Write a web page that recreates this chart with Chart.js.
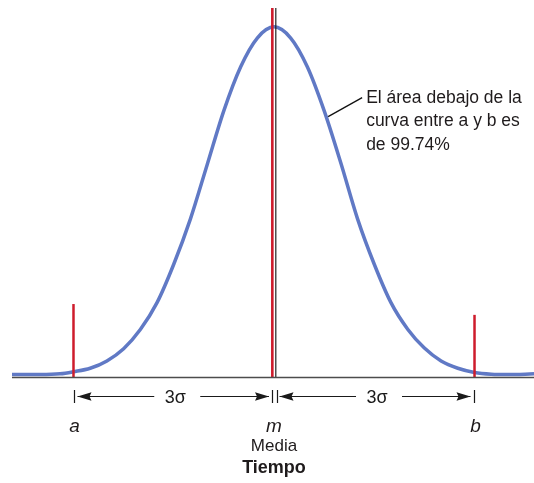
<!DOCTYPE html>
<html>
<head>
<meta charset="utf-8">
<script src="https://cdn.jsdelivr.net/npm/chart.js@4/dist/chart.umd.min.js"></script>
<style>
  body { margin: 0; background: #fff; }
  #wrap { width: 534px; height: 483px; }
</style>
</head>
<body>
<div id="wrap"><canvas id="bell" width="534" height="483"></canvas></div>
<script>
// Curve: x in sigma units, height in % of the peak
const curveX = [-3.92, -3.5, -3.2, -3.0, -2.75, -2.5, -2.25, -2.0, -1.75, -1.5, -1.25, -1.0, -0.75, -0.5, -0.25, 0,
                0.25, 0.5, 0.75, 1.0, 1.25, 1.5, 1.75, 2.0, 2.25, 2.5, 2.75, 3.0, 3.25, 3.5, 3.89];
const curveY = [0.4, 0.4, 0.6, 1.2, 2.2, 4.3, 7.8, 13.3, 21, 32, 45, 60.5, 76, 88.5, 96.8, 100,
                96.8, 88.5, 76, 61, 45, 32, 21, 13.4, 8, 4.3, 2.2, 1.0, 0.5, 0.4, 0.6];

// Limits a and b, and the mean m
const boundX = [-3, 3];
const boundTop = [20.6, 17.5];
const boundLabels = ['a', 'b'];
const meanX = 0;
const meanLabel = 'm';
const meanName = 'Media';
const axisTitle = 'Tiempo';
const spanLabel = '3σ';
const noteAt = [0.81, 74.3];
const noteLines = ['El área debajo de la', 'curva entre a y b es', 'de 99.74%'];

const yMin = -0.3, yMax = 105.4;
const BLUE = 'rgb(96,121,197)';
const RED = 'rgb(206,28,44)';
const FONT = '"Liberation Sans", Arial, sans-serif';

function vline(x, top, color, width) {
    return {
        data: [{ x: x, y: yMin }, { x: x, y: top }],
        borderColor: color,
        borderWidth: width,
        pointRadius: 0,
        fill: false
    };
}

// arrow head with tip at (x, y) pointing in direction dir (-1 left, 1 right)
function arrowHead(ctx, x, y, dir) {
    ctx.beginPath();
    ctx.moveTo(x, y);
    ctx.lineTo(x - dir * 14, y - 4.2);
    ctx.lineTo(x - dir * 12, y);
    ctx.lineTo(x - dir * 14, y + 4.2);
    ctx.closePath();
    ctx.fill();
}

function span(ctx, x1, x2, y) {
    const mid = (x1 + x2) / 2 + 4;
    ctx.beginPath();
    ctx.moveTo(x1 + 3, y); ctx.lineTo(mid - 23, y);
    ctx.moveTo(mid + 23, y); ctx.lineTo(x2 - 3, y);
    ctx.stroke();
    arrowHead(ctx, x1 + 3, y, -1);
    arrowHead(ctx, x2 - 3, y, 1);
    ctx.font = '18px ' + FONT;
    ctx.textAlign = 'center';
    ctx.textBaseline = 'alphabetic';
    ctx.fillText(spanLabel, mid - 2, y + 6);
}

const annotations = {
    id: 'annotations',
    afterDatasetsDraw(chart) {
        const ctx = chart.ctx;
        const xs = chart.scales.x, ys = chart.scales.y;
        const area = chart.chartArea;
        ctx.save();
        // horizontal axis
        ctx.strokeStyle = '#4d4d4d';
        ctx.lineWidth = 1.6;
        ctx.beginPath();
        ctx.moveTo(area.left, area.bottom + 0.5);
        ctx.lineTo(area.right, area.bottom + 0.5);
        ctx.stroke();

        // dimension lines
        const ay = area.bottom + 19.5;
        const pa = xs.getPixelForValue(boundX[0]);
        const pb = xs.getPixelForValue(boundX[1]);
        const pm1 = xs.getPixelForValue(meanX) - 2;
        const pm2 = xs.getPixelForValue(meanX) + 2.5;
        ctx.strokeStyle = '#1a1a1a';
        ctx.fillStyle = '#1a1a1a';
        ctx.lineWidth = 1.2;
        ctx.beginPath();
        [pa + 1, pm1, pm2, pb - 1].forEach(function (px) {
            ctx.moveTo(Math.round(px) + 0.5, ay - 6.5);
            ctx.lineTo(Math.round(px) + 0.5, ay + 6.5);
        });
        ctx.stroke();
        span(ctx, pa + 1, pm1, ay);
        span(ctx, pm2, pb - 1, ay);

        // labels under the axis
        ctx.fillStyle = '#1f1b1c';
        ctx.textAlign = 'center';
        ctx.font = 'italic 19px ' + FONT;
        ctx.fillText(boundLabels[0], pa + 1, area.bottom + 55);
        ctx.fillText(boundLabels[1], pb + 1, area.bottom + 55);
        ctx.fillText(meanLabel, xs.getPixelForValue(meanX), area.bottom + 55);
        ctx.font = '17px ' + FONT;
        ctx.fillText(meanName, xs.getPixelForValue(meanX), area.bottom + 74);
        ctx.font = 'bold 18px ' + FONT;
        ctx.fillText(axisTitle, xs.getPixelForValue(meanX), area.bottom + 96);

        // note with leader line
        const nx = xs.getPixelForValue(noteAt[0]);
        const ny = ys.getPixelForValue(noteAt[1]);
        ctx.strokeStyle = '#111';
        ctx.lineWidth = 1.3;
        ctx.beginPath();
        ctx.moveTo(nx, ny);
        ctx.lineTo(nx + 34, ny - 19);
        ctx.stroke();
        ctx.textAlign = 'left';
        ctx.font = '17.5px ' + FONT;
        noteLines.forEach(function (t, i) {
            ctx.fillText(t, nx + 38, ny - 14 + i * 23.5);
        });
        ctx.restore();
    }
};

function createBellChart() {
    const ctx = document.getElementById('bell').getContext('2d');
    new Chart(ctx, {
        type: 'line',
        data: {
            datasets: [
                vline(boundX[0], boundTop[0], RED, 2.5),
                vline(boundX[1], boundTop[1], RED, 2.5),
                vline(meanX - 0.025, yMax, RED, 2.6),
                vline(meanX + 0.027, yMax, '#222', 1.2),
                {
                    data: curveX.map((x, i) => ({ x: x, y: curveY[i] })),
                    borderColor: BLUE,
                    borderWidth: 3.5,
                    pointRadius: 0,
                    cubicInterpolationMode: 'monotone',
                    fill: false
                }
            ]
        },
        options: {
            responsive: false,
            animation: false,
            layout: { padding: { left: 12, right: 0, top: 8, bottom: 106 } },
            plugins: { legend: { display: false }, tooltip: { enabled: false } },
            scales: {
                x: { type: 'linear', min: -3.92, max: 3.89, display: false },
                y: { min: yMin, max: yMax, display: false }
            }
        },
        plugins: [annotations]
    });
}

document.addEventListener('DOMContentLoaded', createBellChart);
</script>
</body>
</html>
